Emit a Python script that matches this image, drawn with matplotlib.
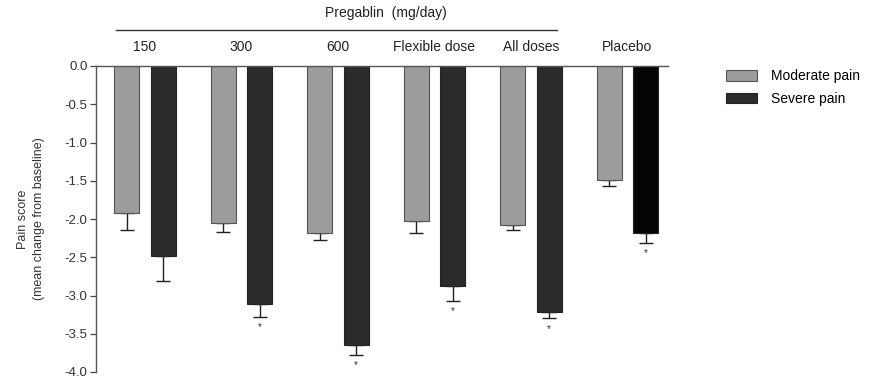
import matplotlib.pyplot as plt
import numpy as np

plt.rcParams['font.family'] = ['Liberation Sans', 'DejaVu Sans']

# Pain score change by dose group
grupos = ['150', '300', '600', 'Flexible dose', 'All doses', 'Placebo']
moderada = [-1.92, -2.05, -2.18, -2.02, -2.08, -1.49]
moderada_err = [0.23, 0.12, 0.10, 0.16, 0.07, 0.08]
severa = [-2.49, -3.11, -3.65, -2.88, -3.22, -2.18]
severa_err = [0.32, 0.17, 0.13, 0.19, 0.08, 0.13]
asterisco = [False, True, True, True, True, True]

fig = plt.figure(figsize=(8.73, 3.81), dpi=100)
ax = fig.add_axes([96 / 873, 1 - 372 / 381, 572 / 873, 306 / 381])

x = np.arange(len(grupos))
larg = 0.259
desl = 0.187
cor_sev = ['#2b2b2b'] * 5 + ['#050505']

ax.bar(x - desl, moderada, larg, color='#9c9c9c', edgecolor='#555555', linewidth=0.8,
       label='Moderate pain', zorder=2)
ax.bar(x + desl, severa, larg, color=cor_sev, edgecolor='#222222', linewidth=0.8,
       label='Severe pain', zorder=2)

# barras de erro so para baixo
ax.errorbar(x - desl, moderada, yerr=[moderada_err, [0] * 6], fmt='none', ecolor='#222222',
            elinewidth=1.0, capsize=5, capthick=1.0, zorder=1)
ax.errorbar(x + desl, severa, yerr=[severa_err, [0] * 6], fmt='none', ecolor='#222222',
            elinewidth=1.0, capsize=5, capthick=1.0, zorder=1)

for i in range(len(grupos)):
    if asterisco[i]:
        ax.text(x[i] + desl, severa[i] - severa_err[i] - 0.07, '*', ha='center', va='top',
                fontsize=7, color='#333333')

ax.set_xlim(-0.508, 5.42)
ax.set_ylim(-4.0, 0.0)
ax.set_yticks(np.arange(0, -4.01, -0.5))
ax.set_yticklabels([f'{v:.1f}' for v in np.arange(0, -4.01, -0.5)])
ax.tick_params(axis='y', labelsize=9.5, colors='#444444', labelcolor='#333333',
               length=4, width=0.9, direction='out', pad=2)
ax.set_xticks([])
for s in ['bottom', 'right']:
    ax.spines[s].set_visible(False)
ax.spines['left'].set_color('#555555')
ax.spines['top'].set_color('#555555')
ax.spines['left'].set_linewidth(1.0)
ax.spines['top'].set_linewidth(1.0)

# rotulos dos grupos em cima
for i, g in enumerate(grupos):
    ax.text(x[i], 0.16, g, ha='center', va='bottom', fontsize=10, color='#222222')

ax.plot([-0.3, 4.27], [0.47, 0.47], color='#333333', linewidth=1.0, clip_on=False)
ax.text(2.5, 0.6, 'Pregablin  (mg/day)', ha='center', va='bottom', fontsize=10, color='#222222')

ax.set_ylabel('Pain score\n(mean change from baseline)', fontsize=9, color='#333333',
              linespacing=1.5, labelpad=14)

ax.legend(loc='upper left', bbox_to_anchor=(1.08, 1.03), frameon=False, fontsize=10,
          handlelength=2.2, handleheight=0.8, labelspacing=0.6, handletextpad=1.0)

fig.savefig('out.png', dpi=100)
